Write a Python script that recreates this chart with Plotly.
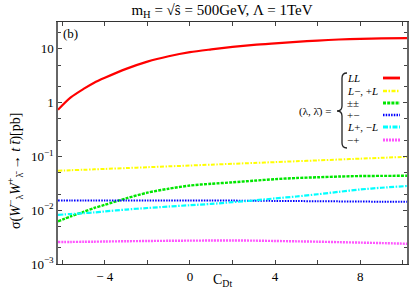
import plotly.graph_objects as go

# ---- data ----
C_DT = [-6.2, -5.6, -5, -4.5, -4, -3, -2, -1, 0, 1, 2, 3, 4, 5, 6, 7, 8, 9, 10.2]
LL = [0.74, 1.25, 1.8, 2.35, 2.9, 4.25, 5.8, 7.3, 8.7, 9.8, 10.9, 11.9, 12.7, 13.5, 14.3,
      14.95, 15.4, 15.7, 15.9]
LM_PL = [0.054, 0.0555, 0.0565, 0.0575, 0.0586, 0.0608, 0.0631, 0.0654, 0.0678, 0.0704, 0.073,
         0.0757, 0.0785, 0.0814, 0.0845, 0.0877, 0.091, 0.0943, 0.0984]
PMPM = [0.0062, 0.0077, 0.0093, 0.011, 0.0126, 0.0166, 0.0212, 0.0251, 0.0288, 0.031, 0.033,
        0.0354, 0.0378, 0.0397, 0.041, 0.0423, 0.0432, 0.0435, 0.0437]
PM = [0.0151, 0.0151, 0.0151, 0.0151, 0.0151, 0.0151, 0.0151, 0.0151, 0.0151, 0.0151, 0.0151,
      0.015, 0.0149, 0.0148, 0.0147, 0.0146, 0.0145, 0.0144, 0.0143]
LP_ML = [0.0082, 0.0085, 0.0088, 0.0091, 0.0095, 0.0103, 0.0110, 0.0117, 0.0124, 0.0131, 0.0141,
         0.0152, 0.0166, 0.018, 0.0198, 0.022, 0.0243, 0.0262, 0.0282]
MP = [0.00256, 0.00257, 0.00259, 0.0026, 0.00262, 0.00265, 0.00268, 0.0027, 0.00272, 0.00273,
      0.00274, 0.00272, 0.00268, 0.00264, 0.0026, 0.00255, 0.0025, 0.00245, 0.00238]

SERIES_NAMES = ["<i>LL</i>", "<i>L</i>−, +<i>L</i>", "±±", "+−", "<i>L</i>+, −<i>L</i>", "−+"]
SERIES_VALUES = [LL, LM_PL, PMPM, PM, LP_ML, MP]
COLORS = ["#ff0000", "#ffff00", "#00e600", "#0000ff", "#00ffff", "#ff55ff"]
DASHES = ["solid", "4px,1.5px,1.5px,1.5px", "3px,1.2px", "1.5px,1.2px", "5px,1.5px,1.5px,1.5px", "2px,1px"]
WIDTHS = [2.2, 2, 2.4, 2, 2.2, 2.4]

Y_TICKVALS = [0.001, 0.01, 0.1, 1, 10]
Y_TICKTEXT = ["10<sup>−3</sup>", "10<sup>−2</sup>", "10<sup>−1</sup>", "1", "10"]
Y_MINOR = [0.002, 0.005, 0.02, 0.05, 0.2, 0.5, 2, 5, 20]
X_TICKVALS = [-4, 0, 4, 8]
X_TICKTEXT = ["− 4", "0", "4", "8"]
X_MINOR = [-6, -2, 2, 6, 10]

W, H = 409, 288
L, R, T, B = 58, 2, 22, 24
PW, PH = W - L - R, H - T - B
FONT = "Liberation Serif"


def px2paper(x, y):
    return (x - L) / PW, (H - B - y) / PH


fig = go.Figure()
for name, vals, col, dash, wd in zip(SERIES_NAMES, SERIES_VALUES, COLORS, DASHES, WIDTHS):
    fig.add_trace(go.Scatter(x=C_DT, y=vals, mode="lines", name=name,
                             line=dict(color=col, dash=dash, width=wd, shape="spline", smoothing=0.8),
                             showlegend=False))

fig.update_layout(
    width=W, height=H,
    margin=dict(l=L, r=R, t=T, b=B, autoexpand=False),
    paper_bgcolor="white", plot_bgcolor="white",
    font=dict(family=FONT, size=13, color="black"),
    title=dict(text="m<sub>H</sub> = √ŝ = 500GeV, Λ = 1TeV", x=222 / W, xanchor="center",
               y=1 - 10 / H, yanchor="middle", font=dict(family=FONT, size=15), automargin=False),
)

fig.update_xaxes(range=[-6.2, 10.2], showgrid=False, zeroline=False, automargin=False,
                 tickmode="array", tickvals=X_TICKVALS, ticktext=X_TICKTEXT,
                 ticks="inside", ticklen=4, tickcolor="#444", mirror="ticks",
                 showline=True, linecolor="#333", linewidth=1,
                 minor=dict(tickmode="array", tickvals=X_MINOR, ticks="inside",
                            ticklen=4, tickcolor="#444"),
                 tickfont=dict(family=FONT, size=13))
fig.update_yaxes(type="log", range=[-3, 1.5], showgrid=False, zeroline=False, automargin=False,
                 tickmode="array", tickvals=Y_TICKVALS, ticktext=Y_TICKTEXT,
                 ticks="inside", ticklen=4, tickcolor="#444", mirror="ticks",
                 showline=True, linecolor="#666", linewidth=1.5,
                 minor=dict(tickmode="array", tickvals=Y_MINOR, ticks="inside",
                            ticklen=3, tickcolor="#444"),
                 tickfont=dict(family=FONT, size=13))

ann = []
# axis titles
ax, ay = px2paper(222, 280)
ann.append(dict(x=ax, y=ay, xref="paper", yref="paper", text="C<sub>Dt</sub>", showarrow=False,
                xanchor="center", yanchor="middle", font=dict(family=FONT, size=14)))
ax, ay = px2paper(15, 171)
ann.append(dict(x=ax, y=ay, xref="paper", yref="paper", textangle=-90,
                text="σ(<i>W</i><sup>−</sup><sub>λ</sub><i>W</i><sup>+</sup><sub>λ̄</sub> → <i>t t̄</i>)[pb]",
                showarrow=False, xanchor="center", yanchor="middle", font=dict(family=FONT, size=14)))
ax, ay = px2paper(61, 34)
ann.append(dict(x=ax, y=ay, xref="paper", yref="paper", text="(b)", showarrow=False,
                xanchor="left", yanchor="middle", font=dict(family=FONT, size=13)))
# legend block
ax, ay = px2paper(333, 111)
ann.append(dict(x=ax, y=ay, xref="paper", yref="paper", text="(λ, λ̄) =", showarrow=False,
                xanchor="right", yanchor="middle", font=dict(family=FONT, size=11)))
ROW_Y = [78, 91, 103, 115, 127, 140]
shapes = []
for name, col, dash, wd, ry in zip(SERIES_NAMES, COLORS, DASHES, WIDTHS, ROW_Y):
    ax, ay = px2paper(345, ry)
    ann.append(dict(x=ax, y=ay, xref="paper", yref="paper", text=name, showarrow=False,
                    xanchor="left", yanchor="middle", font=dict(family=FONT, size=11)))
    x0, y0 = px2paper(383, ry)
    x1, _ = px2paper(400, ry)
    shapes.append(dict(type="line", xref="paper", yref="paper", x0=x0, x1=x1, y0=y0, y1=y0,
                       line=dict(color=col, dash=dash, width=wd + 0.6)))

# curly brace
pts = [("M", [(347, 73)]), ("Q", [(342, 73), (342, 78)]), ("L", [(342, 106)]),
       ("Q", [(342, 111), (337, 111)]), ("Q", [(342, 111), (342, 116)]), ("L", [(342, 143)]),
       ("Q", [(342, 148), (347, 148)])]
path = ""
for cmd, pl in pts:
    path += cmd + " " + " ".join("%.5f,%.5f" % px2paper(px, py) for px, py in pl) + " "
shapes.append(dict(type="path", xref="paper", yref="paper", path=path.strip(),
                   line=dict(color="#222", width=1.3)))

fig.update_layout(annotations=ann, shapes=shapes)
fig.write_html("out.html", config={"displayModeBar": False},
               post_script="document.body.style.margin='0';")
